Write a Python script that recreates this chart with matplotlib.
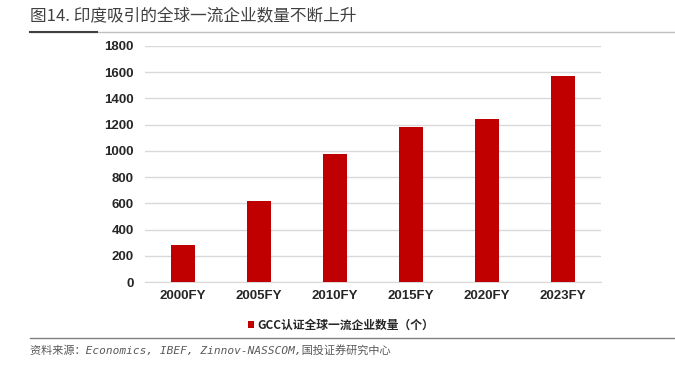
import matplotlib.pyplot as plt
from matplotlib.lines import Line2D

plt.rcParams['font.family'] = ['Liberation Sans', 'Noto Sans CJK SC', 'DejaVu Sans']

years = ['2000FY', '2005FY', '2010FY', '2015FY', '2020FY', '2023FY']
gcc_count = [280, 615, 980, 1180, 1240, 1570]
series_name = 'GCC认证全球一流企业数量（个）'
title = '图14. 印度吸引的全球一流企业数量不断上升'
source = '资料来源：Economics, IBEF, Zinnov-NASSCOM,国投证券研究中心'

fig = plt.figure(figsize=(6.75, 3.67), dpi=100)
ax = fig.add_axes([0.2148, 0.2316, 0.6752, 0.6431])

x = range(len(years))
ax.bar(x, gcc_count, width=0.31, color='#C00000', label=series_name, zorder=3)
ax.set_xlim(-0.5, len(years) - 0.5)
ax.set_ylim(0, 1800)
ax.set_yticks(range(0, 1801, 200))
ax.set_xticks(list(x))
ax.set_xticklabels(years)
ax.grid(axis='y', color='#d9d9d9', linewidth=1, zorder=0)
for s in ['top', 'right', 'left']:
    ax.spines[s].set_visible(False)
ax.spines['bottom'].set_color('#d9d9d9')
ax.tick_params(length=0, labelsize=9.5, colors='#262626', pad=6)
ax.tick_params(axis='y', pad=8)
for lbl in ax.get_xticklabels() + ax.get_yticklabels():
    lbl.set_fontweight('bold')

leg = ax.legend(loc='upper center', bbox_to_anchor=(0.43, -0.11), frameon=False,
                handlelength=0.55, handleheight=0.55, handletextpad=0.3,
                prop={'family': ['Noto Sans CJK SC'], 'size': 8.5, 'weight': 'bold'})
for t in leg.get_texts():
    t.set_color('#262626')

fig.text(0.044, 0.955, title, fontsize=12, color='#404040', va='center',
         family=['Noto Sans CJK SC'], weight='medium')
fig.add_artist(Line2D([0.044, 1.0], [0.912, 0.912], color='#bfbfbf', lw=1))
fig.add_artist(Line2D([0.044, 0.143], [0.912, 0.912], color='#404040', lw=1.5))
fig.add_artist(Line2D([0.044, 1.0], [0.079, 0.079], color='#808080', lw=1))
fig.text(0.044, 0.045, source, fontsize=8, color='#595959', style='italic', va='center',
         family=['DejaVu Sans Mono', 'Noto Sans CJK SC'])

fig.savefig('out.png', dpi=100)
